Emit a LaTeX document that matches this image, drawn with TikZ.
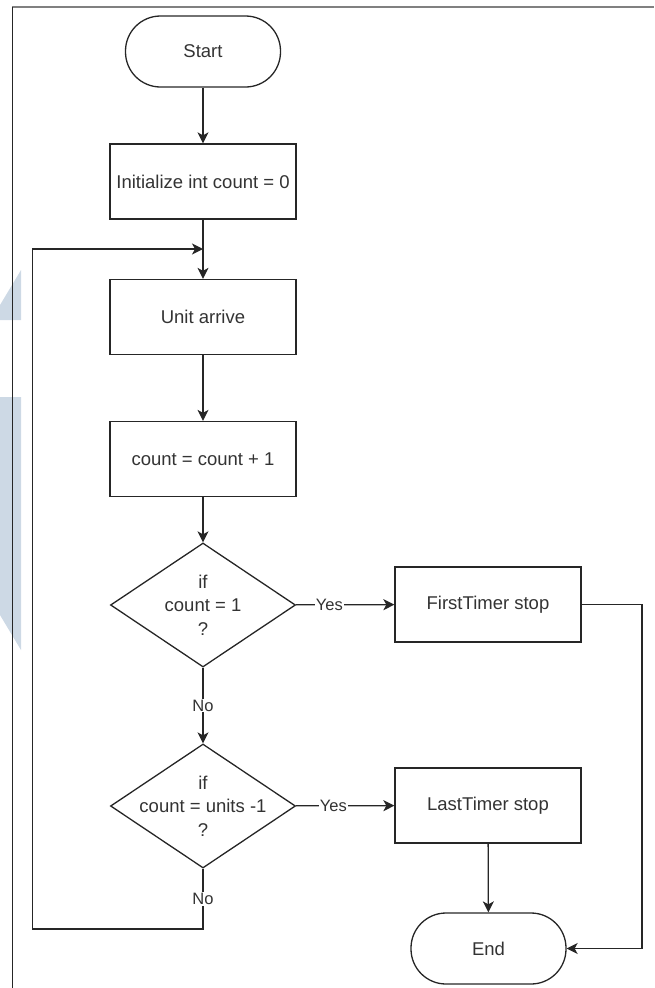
\documentclass[tikz,border=0pt]{standalone}
\usepackage{fontspec}
\setmainfont{Liberation Sans}
\usetikzlibrary{arrows.meta,shapes.geometric}
\definecolor{wmblue}{HTML}{CDD9E5}

\begin{document}
\begin{tikzpicture}[
  x=1pt, y=-1pt,
  font=\fontsize{18.5}{23.5}\selectfont,
  >={Stealth[length=11pt,width=11pt,inset=3pt]},
  every node/.style={text=black!80},
  flow/.style={black!85, line width=1.3pt},
  term/.style={draw=black!85, line width=1.3pt, rounded corners=35pt, minimum width=155pt, minimum height=71pt},
  proc/.style={draw=black!85, line width=1.3pt, minimum width=186pt, minimum height=75pt},
  decide/.style={draw=black!85, line width=1.3pt, diamond, minimum width=185pt, minimum height=124pt, inner sep=0pt},
  tag/.style={fill=white, inner sep=1pt, font=\fontsize{16.5}{19}\selectfont}
]
\useasboundingbox (0,0) rectangle (654,988);

% faint background marks and frame
\fill[wmblue] (21,270) -- (21,320) -- (0,320) -- (0,305) -- cycle;
\fill[wmblue] (0,397) -- (21,397) -- (21,650) -- (0,615) -- cycle;
\draw[black!50, line width=1.5pt] (12,7) -- (654,7);
\draw[black!85, line width=1pt] (12,7) -- (12,988);

\node[term] (start) at (203,51.5) {Start};
\node[proc] (init) at (203,181.5) {Initialize int count = 0};
\node[proc] (unit) at (203,317) {Unit arrive};
\node[proc] (incr) at (203,459) {count = count + 1};
\node[decide, label={[align=center]center:if\\count = 1\\?}] (ask1) at (203,605) {};
\node[decide, label={[align=center]center:if\\count = units -1\\?}] (ask2) at (203,806) {};
\node[proc] (stop1) at (488,604.5) {FirstTimer stop};
\node[proc] (stop2) at (488,805.5) {LastTimer stop};
\node[term] (finish) at (488.5,948.5) {End};

\coordinate (merge) at (203,249);
\coordinate (looptop) at (32.5,249);
\coordinate (loopbot) at (32.5,929);
\coordinate (rside) at (642,0);

\draw[flow,->] (start) -- (init);
\draw[flow,->] (init) -- (unit);
\draw[flow,->] (unit) -- (incr);
\draw[flow,->] (incr) -- (ask1);
\draw[flow,->] (ask1) -- node[tag, pos=.34] {Yes} (stop1);
\draw[flow,->] (ask1) -- node[tag] {No} (ask2);
\draw[flow,->] (ask2) -- node[tag, pos=.38] {Yes} (stop2);
\draw[flow,->] (stop2) -- (finish);
\draw[flow,->] (stop1) -- (stop1 -| rside) -- (rside |- finish) -- (finish);
\draw[flow,->] (ask2) -- node[tag] {No} (ask2 |- loopbot) -- (loopbot) -- (looptop) -- (merge);

\end{tikzpicture}
\end{document}
